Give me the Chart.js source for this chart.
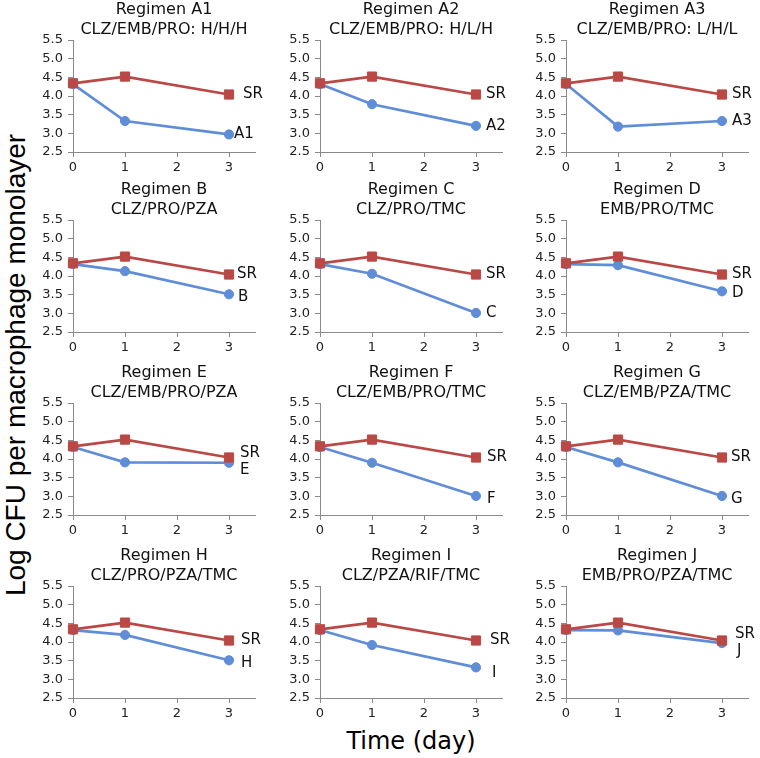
<!DOCTYPE html>
<html><head><meta charset="utf-8">
<script src="https://cdn.jsdelivr.net/npm/chart.js@4.4.0/dist/chart.umd.min.js"></script>
<style>
html,body{margin:0;padding:0;background:#fff;}
#wrap{position:relative;width:760px;height:758px;overflow:hidden;background:#fff;}
#wrap canvas{position:absolute;}
.ylab{position:absolute;left:16px;top:365px;transform:translate(-50%,-50%) rotate(-90deg);font:28px "Liberation Sans",Arial,sans-serif;white-space:nowrap;color:#000;}
.xlab{position:absolute;left:411px;top:741px;transform:translate(-50%,-50%);font:24px "DejaVu Sans",sans-serif;white-space:nowrap;color:#000;}
</style></head>
<body><div id="wrap">
<div class="ylab">Log CFU per macrophage monolayer</div>
<div class="xlab">Time (day)</div>
</div>
<script>
// ---- data ----
const days = [0, 1, 3];
const xTickValues = [0, 1, 2, 3];
const yTickValues = [2.5, 3.0, 3.5, 4.0, 4.5, 5.0, 5.5];
const srValues = [4.34, 4.52, 4.04];
const panelNames = ['A1','A2','A3','B','C','D','E','F','G','H','I','J'];
const drugCombos = ['CLZ/EMB/PRO: H/H/H','CLZ/EMB/PRO: H/L/H','CLZ/EMB/PRO: L/H/L',
  'CLZ/PRO/PZA','CLZ/PRO/TMC','EMB/PRO/TMC',
  'CLZ/EMB/PRO/PZA','CLZ/EMB/PRO/TMC','CLZ/EMB/PZA/TMC',
  'CLZ/PRO/PZA/TMC','CLZ/PZA/RIF/TMC','EMB/PRO/PZA/TMC'];
const valuesA1 = [4.32, 3.33, 2.97];
const valuesA2 = [4.32, 3.78, 3.20];
const valuesA3 = [4.32, 3.18, 3.33];
const valuesB  = [4.32, 4.13, 3.51];
const valuesC  = [4.32, 4.06, 3.01];
const valuesD  = [4.32, 4.29, 3.59];
const valuesE  = [4.32, 3.91, 3.90];
const valuesF  = [4.32, 3.90, 3.01];
const valuesG  = [4.32, 3.91, 3.01];
const valuesH  = [4.32, 4.19, 3.51];
const valuesI  = [4.32, 3.92, 3.32];
const valuesJ  = [4.32, 4.31, 3.97];
const regimenValues = [valuesA1,valuesA2,valuesA3,valuesB,valuesC,valuesD,valuesE,valuesF,valuesG,valuesH,valuesI,valuesJ];

// ---- layout / style ----
const colAxisX = [73, 320, 566];
const rowPlotTop = [40, 220, 403, 586];
const labelOffsets = [
  [[14,0],[5,0]], [[10,0],[10,0]], [[10,0],[10,0]],
  [[8,0],[9,3]],  [[10,0],[10,0]], [[10,0],[10,2]],
  [[11,-4],[11,7]], [[11,0],[11,3]], [[9,0],[9,3]],
  [[12,0],[12,3]], [[14,0],[16,6]], [[13,-6],[15,8]]
];
const RED = '#BA4845', BLUE = '#5F8DD7', AX = '#8A8A8A', TXT = '#222';
const FONT = '"DejaVu Sans", sans-serif';

const endLabels = {
  id: 'endLabels',
  afterDatasetsDraw(chart) {
    const ctx = chart.ctx;
    chart.data.datasets.forEach((ds, i) => {
      const meta = chart.getDatasetMeta(i);
      const pt = meta.data[meta.data.length - 1];
      ctx.save();
      ctx.font = '15px ' + FONT;
      ctx.fillStyle = '#111';
      ctx.textAlign = 'left';
      ctx.textBaseline = 'middle';
      ctx.fillText(ds.endLabel, pt.x + ds.endDx, pt.y + ds.endDy);
      ctx.restore();
    });
  }
};

const wrap = document.getElementById('wrap');
panelNames.forEach((name, p) => {
  const col = p % 3, row = Math.floor(p / 3);
  const cv = document.createElement('canvas');
  cv.width = 245; cv.height = 182;
  cv.style.left = (colAxisX[col] - 45) + 'px';
  cv.style.top = (rowPlotTop[row] - 40) + 'px';
  cv.style.width = '245px'; cv.style.height = '182px';
  wrap.appendChild(cv);
  const gridOpts = {display: true, drawOnChartArea: false, drawTicks: true, tickLength: 5, color: AX, lineWidth: 1};
  const off = labelOffsets[p];
  new Chart(cv, {
    type: 'line',
    data: {
      datasets: [
        {label: 'SR', data: days.map((d, i) => ({x: d, y: srValues[i]})),
         borderColor: RED, backgroundColor: RED, borderWidth: 2.7,
         pointStyle: 'rect', pointRadius: 6.5, pointBorderWidth: 1, pointBorderColor: RED,
         clip: false, endLabel: 'SR', endDx: off[0][0], endDy: off[0][1]},
        {label: name, data: days.map((d, i) => ({x: d, y: regimenValues[p][i]})),
         borderColor: BLUE, backgroundColor: BLUE, borderWidth: 2.7,
         pointStyle: 'circle', pointRadius: 4.6, pointBorderWidth: 1, pointBorderColor: BLUE,
         clip: false, endLabel: name, endDx: off[1][0], endDy: off[1][1]}
      ]
    },
    options: {
      responsive: false, animation: false, events: [],
      layout: {padding: {left: 0, right: 18, top: 0, bottom: 0}},
      plugins: {
        legend: {display: false}, tooltip: {enabled: false},
        title: {display: true, text: ['Regimen ' + name, drugCombos[p]],
          font: {family: FONT, size: 16, weight: 'normal', lineHeight: 1.25},
          color: '#111', padding: 0, fullSize: false}
      },
      scales: {
        x: {type: 'linear', min: 0, max: 3.5,
          afterBuildTicks: s => { s.ticks = xTickValues.map(v => ({value: v})); },
          afterFit: s => { s.height = 30; },
          grid: gridOpts, border: {display: true, color: AX, width: 1},
          ticks: {font: {family: FONT, size: 13}, color: TXT, padding: 3, maxRotation: 0, autoSkip: false}},
        y: {type: 'linear', min: 2.5, max: 5.5,
          afterBuildTicks: s => { s.ticks = yTickValues.map(v => ({value: v})); },
          afterFit: s => { s.width = 45; },
          grid: gridOpts, border: {display: true, color: AX, width: 1},
          ticks: {font: {family: FONT, size: 13}, color: TXT, padding: 5, autoSkip: false,
            callback: v => Number(v).toFixed(1)}}
      }
    },
    plugins: [endLabels]
  });
});
</script>
</body></html>
